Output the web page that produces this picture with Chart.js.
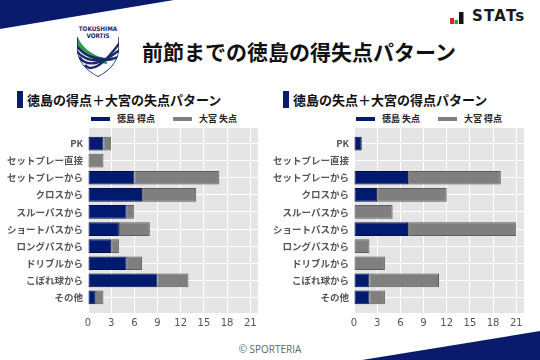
<!DOCTYPE html>
<html>
<head>
<meta charset="utf-8">
<script src="https://cdn.jsdelivr.net/npm/chart.js@4"></script>
<style>
  body { margin: 0; }
  #page { position: relative; width: 540px; height: 360px; background: #fff; overflow: hidden;
          font-family: 'Noto Sans CJK JP', sans-serif; }
  .abs { position: absolute; }
  .ttl { font-size: 13px; font-weight: bold; color: #111; white-space: nowrap; }
  .bar { background: #0a1b6e; width: 6px; height: 17px; }
  .lg { font-size: 9px; font-weight: bold; color: #222; white-space: nowrap; display: flex; align-items: center; }
  .lg span.box { display: inline-block; width: 19px; height: 4px; margin-right: 7px; }
  .lg span.it { display: flex; align-items: center; margin-right: 18px; }
</style>
</head>
<body>
<div id="page">
  <svg class="abs" style="left:0;top:0" width="540" height="360">
    <polygon points="0,0 174,0 0,29" fill="#0a1b6e"/>
    <polygon points="362,360 540,331 540,360" fill="#0a1b6e"/>
    <rect x="450" y="18" width="4" height="6" fill="#e0262b"/>
    <rect x="454.5" y="20" width="3.5" height="4" fill="#2aa14a"/>
    <rect x="459" y="12" width="4.5" height="12" fill="#111"/>
  </svg>
  <div class="abs" style="left:472px;top:7px;font-family:'DejaVu Sans';font-weight:bold;font-size:15px;letter-spacing:1.2px;color:#1a1a1a">STATs</div>

  <svg class="abs" style="left:73px;top:23px" width="50" height="56" viewBox="0 0 50 56">
    <defs>
      <clipPath id="sh"><path d="M4 14 L4 28 Q6 44 25 54 Q44 44 46 28 L46 14 Z"/></clipPath>
    </defs>
    <text x="25" y="8" font-size="6.3" font-weight="bold" text-anchor="middle" fill="#1b2a6b" font-family="DejaVu Sans Condensed, DejaVu Sans">TOKUSHIMA</text>
    <text x="25" y="15" font-size="6.3" font-weight="bold" text-anchor="middle" fill="#1b2a6b" font-family="DejaVu Sans Condensed, DejaVu Sans">VORTIS</text>
    <g clip-path="url(#sh)" fill="none" stroke-width="2.4">
      <path d="M2 10 Q8 30 30 36" stroke="#2e9b48"/>
      <path d="M2 15 Q10 34 34 40" stroke="#2e9b48"/>
      <path d="M2 20 Q12 38 40 36" stroke="#1b2a6b"/>
      <path d="M2 26 Q14 44 46 34" stroke="#1b2a6b"/>
      <path d="M6 34 Q18 50 48 26" stroke="#1b2a6b"/>
      <path d="M12 42 Q22 54 48 18" stroke="#1b2a6b"/>
      <path d="M4 14 L4 28 Q6 44 25 54 Q44 44 46 28 L46 14" stroke="#1b2a6b" stroke-width="1.5"/>
    </g>
  </svg>

  <div class="abs" style="left:0;width:540px;top:36px;text-align:center;font-size:21px;font-weight:bold;color:#111;padding-left:58px;box-sizing:border-box">前節までの徳島の得失点パターン</div>

  <div class="abs bar" style="left:17px;top:91px"></div>
  <div class="abs ttl" style="left:27px;top:90px">徳島の得点＋大宮の失点パターン</div>
  <div class="abs bar" style="left:283px;top:91px"></div>
  <div class="abs ttl" style="left:293px;top:90px">徳島の失点＋大宮の得点パターン</div>

  <div class="abs lg" id="lg1" style="left:91px;top:112px"></div>
  <div class="abs lg" id="lg2" style="left:356px;top:112px"></div>

  <canvas class="abs" id="c1" width="268" height="215" style="left:0;top:120px"></canvas>
  <canvas class="abs" id="c2" width="270" height="215" style="left:270px;top:120px"></canvas>

  <div class="abs" style="left:0;width:540px;top:342px;text-align:center;font-family:'Open Sans';font-size:10px;color:#666">© SPORTERIA</div>
</div>
<script>
const categories = ['PK', 'セットプレー直接', 'セットプレーから', 'クロスから', 'スルーパスから',
  'ショートパスから', 'ロングパスから', 'ドリブルから', 'こぼれ球から', 'その他'];

const tokushimaScored = [2, 0, 6, 7, 5, 4, 3, 5, 9, 1];
const omiyaConceded   = [1, 2, 11, 7, 1, 4, 1, 2, 4, 1];

const tokushimaConceded = [1, 0, 7, 3, 0, 7, 0, 0, 2, 2];
const omiyaScored       = [0, 0, 12, 9, 5, 14, 2, 4, 9, 2];

const xMax = 22;
const xStep = 3;

const navy = '#001a70';
const gray = '#7f7f7f';

const plotBackground = {
  id: 'plotBackground',
  beforeDraw(chart) {
    const a = chart.chartArea, c = chart.ctx;
    c.save();
    c.fillStyle = '#e5e5e5';
    c.fillRect(a.left, a.top, a.right - a.left, a.bottom - a.top);
    c.restore();
  }
};

function makeChart(id, legendId, yWidth, padRight, names, first, second) {
  const lg = document.getElementById(legendId);
  [[names[0], navy], [names[1], gray]].forEach(([n, col]) => {
    lg.innerHTML += '<span class="it"><span class="box" style="background:' + col + '"></span>' + n + '</span>';
  });
  new Chart(document.getElementById(id), {
    type: 'bar',
    data: {
      datasets: [{
        label: names[0],
        data: first.map((v, i) => ({ x: v, y: i })),
        backgroundColor: navy,
        borderColor: '#00104a',
        borderWidth: 1,
        borderSkipped: false,
        categoryPercentage: 1,
        barPercentage: 0.8
      }, {
        label: names[1],
        data: second.map((v, i) => ({ x: v, y: i })),
        backgroundColor: gray,
        borderColor: '#5e5e5e',
        borderWidth: 1,
        borderSkipped: false,
        categoryPercentage: 1,
        barPercentage: 0.8
      }]
    },
    options: {
      indexAxis: 'y',
      responsive: false,
      animation: false,
      layout: { padding: { top: 8, right: padRight, left: 0, bottom: 0 } },
      plugins: { legend: { display: false }, tooltip: { enabled: false } },
      scales: {
        x: {
          type: 'linear',
          stacked: true,
          min: 0,
          max: xMax,
          border: { display: false },
          grid: { color: '#ffffff', lineWidth: 1, drawTicks: false },
          ticks: { stepSize: xStep, includeBounds: false, color: '#555', padding: 4,
                   font: { family: 'DejaVu Sans', size: 10 } },
          afterFit: axis => { axis.height = 22; }
        },
        y: {
          type: 'linear',
          stacked: true,
          reverse: true,
          offset: false,
          min: -0.91,
          max: categories.length - 1 + 0.91,
          border: { display: false },
          grid: { color: '#ffffff', lineWidth: 1, drawTicks: false, offset: false },
          afterBuildTicks: axis => { axis.ticks = categories.map((c, i) => ({ value: i })); },
          ticks: { autoSkip: false, color: '#555', padding: 5,
                   callback: v => categories[v],
                   font: { family: 'Noto Sans CJK JP', size: 9.5, weight: 'bold' } },
          afterFit: axis => {
            axis.width = yWidth;
            axis.paddingTop = 0;
            axis.paddingBottom = 0;
          }
        }
      }
    },
    plugins: [plotBackground]
  });
}

makeChart('c1', 'lg1', 88, 10, ['徳島 得点', '大宮 失点'], tokushimaScored, omiyaConceded);
makeChart('c2', 'lg2', 84, 16, ['徳島 失点', '大宮 得点'], tokushimaConceded, omiyaScored);
</script>
</body>
</html>
